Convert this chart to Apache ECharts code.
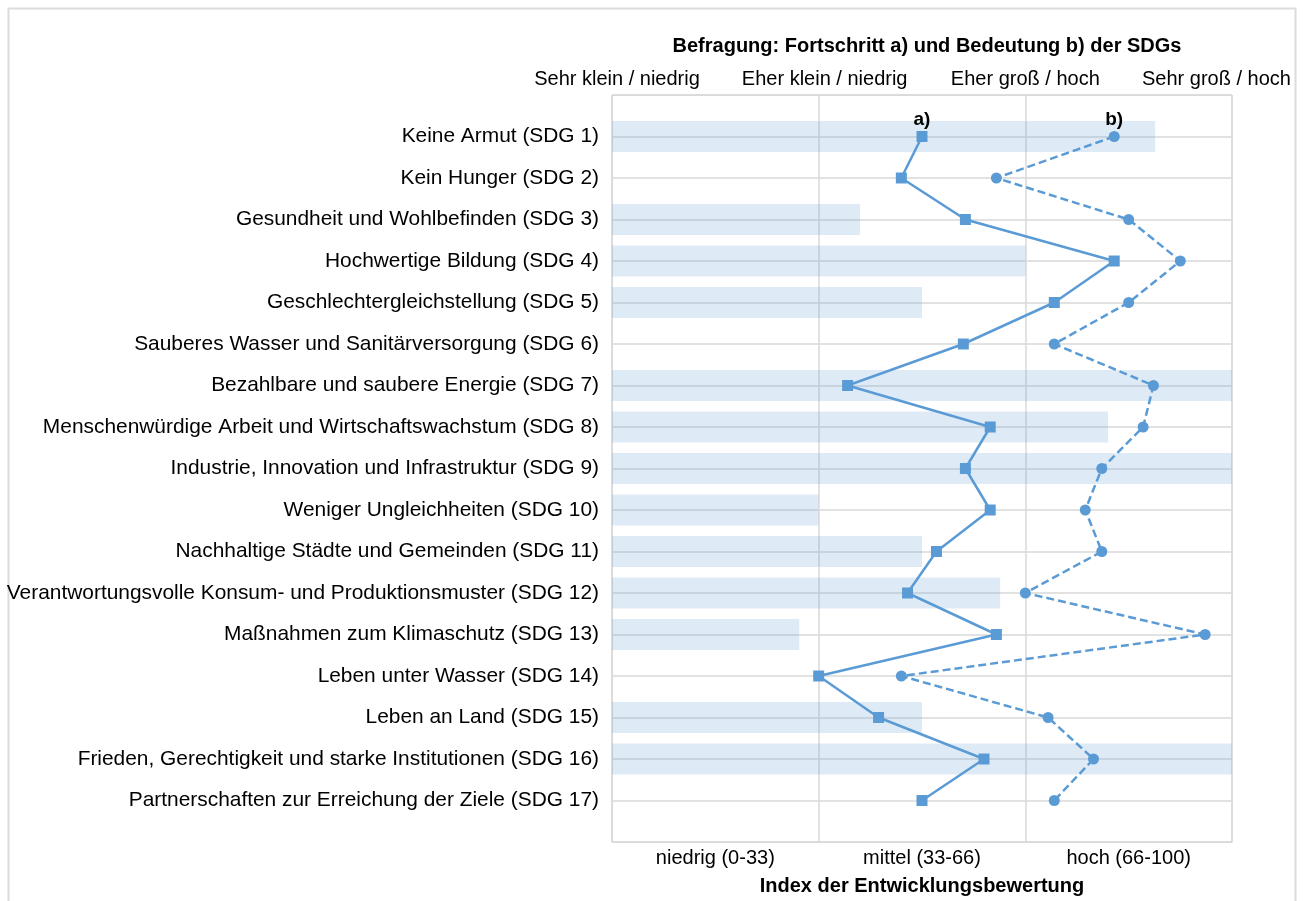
<!DOCTYPE html>
<html>
<head>
<meta charset="utf-8">
<script src="https://cdn.jsdelivr.net/npm/echarts@6/dist/echarts.min.js"></script>
<style>
  html, body { margin: 0; padding: 0; background: #fff; }
  #chart { width: 1303px; height: 901px; }
</style>
</head>
<body>
<div id="chart"></div>
<script>
// ---- data ----
const categories = [
  'Keine Armut (SDG 1)',
  'Kein Hunger (SDG 2)',
  'Gesundheit und Wohlbefinden (SDG 3)',
  'Hochwertige Bildung (SDG 4)',
  'Geschlechtergleichstellung (SDG 5)',
  'Sauberes Wasser und Sanitärversorgung (SDG 6)',
  'Bezahlbare und saubere Energie (SDG 7)',
  'Menschenwürdige Arbeit und Wirtschaftswachstum (SDG 8)',
  'Industrie, Innovation und Infrastruktur (SDG 9)',
  'Weniger Ungleichheiten (SDG 10)',
  'Nachhaltige Städte und Gemeinden (SDG 11)',
  'Verantwortungsvolle Konsum- und Produktionsmuster (SDG 12)',
  'Maßnahmen zum Klimaschutz (SDG 13)',
  'Leben unter Wasser (SDG 14)',
  'Leben an Land (SDG 15)',
  'Frieden, Gerechtigkeit und starke Institutionen (SDG 16)',
  'Partnerschaften zur Erreichung der Ziele (SDG 17)'
];
// Index der Entwicklungsbewertung (0-100), bars
const indexValues = [87.6, null, 40, 66.7, 50, null, 100, 80, 100, 33.3, 50, 62.6, 30.2, null, 50, 100, null];
// a) Fortschritt (1 = sehr klein ... 4 = sehr groß)
const progressA = [2.50, 2.40, 2.71, 3.43, 3.14, 2.70, 2.14, 2.83, 2.71, 2.83, 2.57, 2.43, 2.86, 2.00, 2.29, 2.80, 2.50];
// b) Bedeutung
const importanceB = [3.43, 2.86, 3.50, 3.75, 3.50, 3.14, 3.62, 3.57, 3.37, 3.29, 3.37, 3.00, 3.87, 2.40, 3.11, 3.33, 3.14];
const topTickLabels = ['Sehr klein / niedrig', 'Eher klein / niedrig', 'Eher groß / hoch', 'Sehr groß / hoch'];
const bottomTickLabels = ['niedrig (0-33)', 'mittel (33-66)', 'hoch (66-100)'];
const titleText = 'Befragung: Fortschritt a) und Bedeutung b) der SDGs';
const bottomAxisName = 'Index der Entwicklungsbewertung';
const seriesLabels = ['a)', 'b)'];

// ---- build ----
const yData = [''].concat(categories, ['']);
const pad = arr => [null].concat(arr, [null]);
const FONT = "'Liberation Sans', Arial, sans-serif";
const BLUE = '#5b9bd5';
const GRID = '#d9d9d9';

const chart = echarts.init(document.getElementById('chart'), null, { renderer: 'canvas' });
chart.setOption({
  animation: false,
  textStyle: { fontFamily: FONT },
  graphic: [{
    type: 'rect', left: 6, top: 6, shape: { width: 1287, height: 905 },
    style: { fill: 'none', stroke: '#dcdcdc', lineWidth: 2 }, silent: true
  }],
  title: {
    text: titleText, left: 922, textAlign: 'center', top: 31,
    textStyle: { fontFamily: FONT, fontSize: 20, fontWeight: 'bold', color: '#000' }
  },
  grid: { left: 612, right: 71, top: 95, bottom: 56, containLabel: false,
          show: true, borderColor: GRID, borderWidth: 1 },
  yAxis: {
    type: 'category', data: yData, inverse: true, boundaryGap: false,
    axisLine: { show: true, lineStyle: { color: GRID } },
    axisTick: { show: false },
    splitLine: { show: true, lineStyle: { color: GRID, width: 1.5 } },
    axisLabel: { interval: 0, fontSize: 20.9, color: '#000', margin: 13, fontFamily: FONT,
                 padding: [6, 0, 0, 0] }
  },
  xAxis: [{
    type: 'value', position: 'bottom', min: 0, max: 100, interval: 100 / 6,
    axisLine: { show: true, lineStyle: { color: GRID } },
    axisTick: { show: false }, splitLine: { show: false },
    axisLabel: {
      fontSize: 20, color: '#000', margin: 6, fontFamily: FONT, showMinLabel: true, showMaxLabel: true,
      formatter: v => {
        const k = Math.round(v * 6 / 100);
        return (k % 2 === 1) ? bottomTickLabels[(k - 1) / 2] : '';
      }
    },
    name: bottomAxisName, nameLocation: 'middle', nameGap: 34,
    nameTextStyle: { fontSize: 20, fontWeight: 'bold', color: '#000', fontFamily: FONT }
  }, {
    type: 'value', position: 'top', min: 1, max: 4, interval: 1,
    axisLine: { show: true, lineStyle: { color: GRID } },
    axisTick: { show: false },
    splitLine: { show: true, lineStyle: { color: GRID, width: 1.5 } },
    axisLabel: {
      fontSize: 20, color: '#000', margin: 6, fontFamily: FONT, showMinLabel: true, showMaxLabel: true,
      formatter: v => {
        const i = Math.round(v) - 1;
        return '{t' + i + '|' + topTickLabels[i] + '}';
      },
      rich: {
        t0: { fontSize: 20, color: '#000', fontFamily: FONT, padding: [0, 0, 0, 10] },
        t1: { fontSize: 20, color: '#000', fontFamily: FONT, padding: [0, 0, 0, 12] },
        t2: { fontSize: 20, color: '#000', fontFamily: FONT },
        t3: { fontSize: 20, color: '#000', fontFamily: FONT, padding: [0, 31, 0, 0] }
      }
    }
  }],
  series: [{
    type: 'bar', xAxisIndex: 0, data: pad(indexValues), barWidth: 31,
    itemStyle: { color: 'rgba(91,155,213,0.2)' }, silent: true, z: 1
  }, {
    type: 'line', xAxisIndex: 1, data: pad(progressA),
    symbol: 'rect', symbolSize: 11, connectNulls: false,
    lineStyle: { color: BLUE, width: 2.5 }, itemStyle: { color: BLUE },
    label: {
      show: true, position: 'top', distance: 2, fontSize: 19, fontWeight: 'bold', color: '#000', fontFamily: FONT,
      formatter: p => (p.dataIndex === 1 ? seriesLabels[0] : '')
    }, z: 3
  }, {
    type: 'line', xAxisIndex: 1, data: pad(importanceB),
    symbol: 'circle', symbolSize: 11,
    lineStyle: { color: BLUE, width: 2.5, type: [8, 4] }, itemStyle: { color: BLUE },
    label: {
      show: true, position: 'top', distance: 2, fontSize: 19, fontWeight: 'bold', color: '#000', fontFamily: FONT,
      formatter: p => (p.dataIndex === 1 ? seriesLabels[1] : '')
    }, z: 3
  }]
});
</script>
</body>
</html>
